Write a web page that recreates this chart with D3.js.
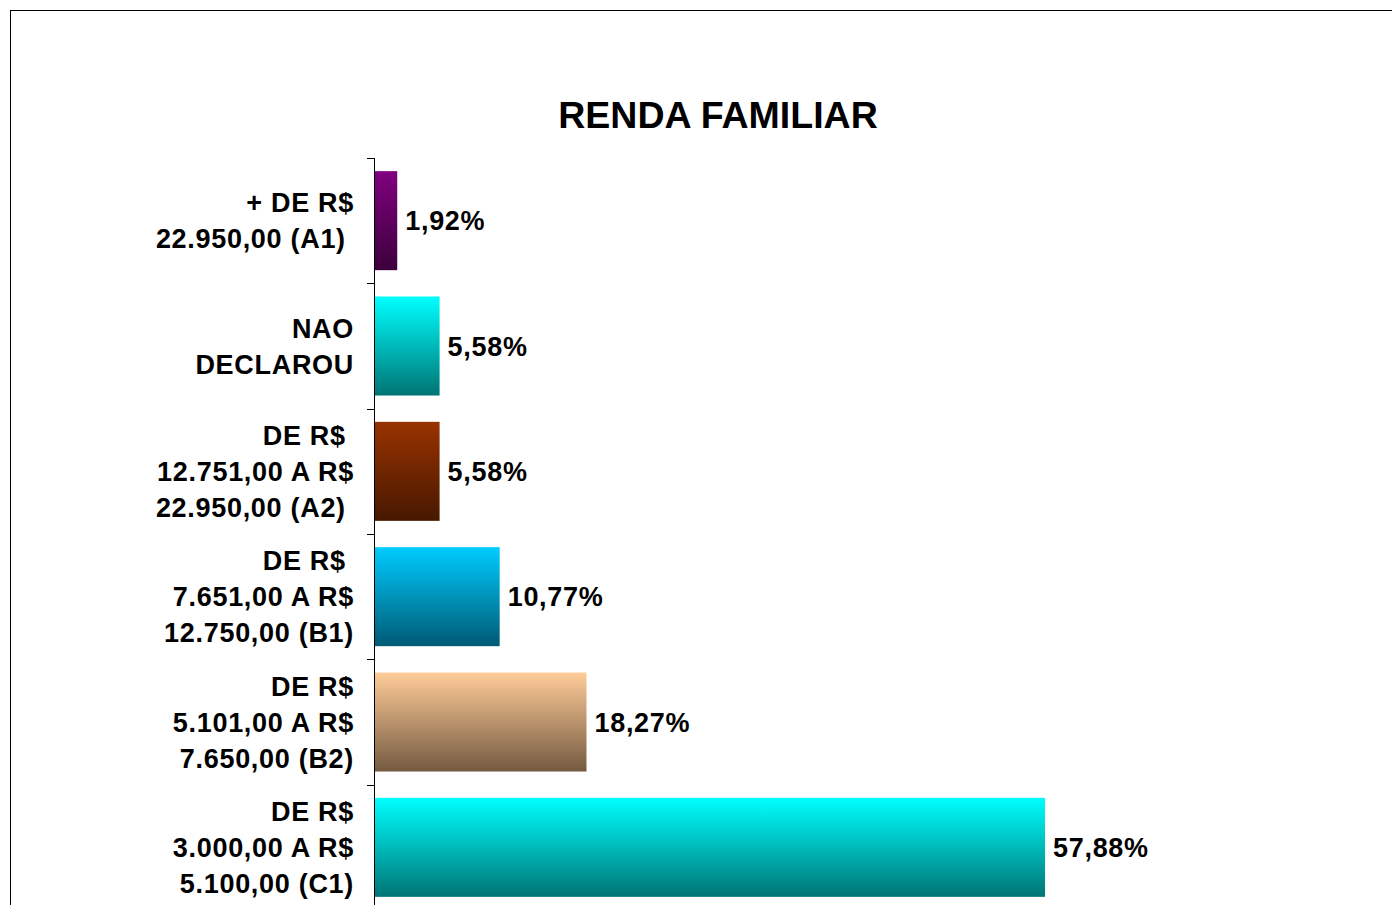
<!DOCTYPE html>
<html>
<head>
<meta charset="utf-8">
<script src="https://cdn.jsdelivr.net/npm/d3@7"></script>
<style>
  html, body { margin: 0; padding: 0; background: #fff; }
  svg { display: block; }
  text { font-family: "Liberation Sans", Arial, sans-serif; font-weight: bold; fill: #000; }
</style>
</head>
<body>
<svg id="chart" width="1392" height="905"></svg>
<script>
const title = "RENDA FAMILIAR";
const categories = ["A1", "NAO", "A2", "B1", "B2", "C1"];
const categoryLines = [
  ["+ DE R$", "22.950,00 (A1) "],
  ["NAO", "DECLAROU"],
  ["DE R$ ", "12.751,00 A R$", "22.950,00 (A2) "],
  ["DE R$ ", "7.651,00 A R$", "12.750,00 (B1)"],
  ["DE R$", "5.101,00 A R$", "7.650,00 (B2)"],
  ["DE R$", "3.000,00 A R$", "5.100,00 (C1)"]
];
const values = [1.92, 5.58, 5.58, 10.77, 18.27, 57.88];
const valueLabels = ["1,92%", "5,58%", "5,58%", "10,77%", "18,27%", "57,88%"];
const topColors = ["#800080", "#00ffff", "#993300", "#00ccff", "#ffcc99", "#00ffff"];
const bottomColors = ["#3c003c", "#007474", "#461800", "#005a74", "#745a40", "#007474"];

const svg = d3.select("#chart");

// outer border (right/bottom beyond view)
svg.append("rect")
  .attr("x", 10.5).attr("y", 10.5)
  .attr("width", 1400).attr("height", 1000)
  .attr("fill", "none").attr("stroke", "#000").attr("stroke-width", 1);

svg.append("text")
  .attr("x", 718).attr("y", 128)
  .attr("text-anchor", "middle")
  .style("font-size", "37.5px")
  .text(title);

const y = d3.scaleBand()
  .domain(categories)
  .range([158, 910])
  .paddingInner(0.21)
  .paddingOuter(0.105);

const x = d3.scaleLinear().domain([0, 100]).range([375, 375 + 1157.6]);

const defs = svg.append("defs");
categories.forEach((c, i) => {
  const g = defs.append("linearGradient")
    .attr("id", "grad" + i)
    .attr("x1", 0).attr("y1", 0).attr("x2", 0).attr("y2", 1);
  g.append("stop").attr("offset", "0%").attr("stop-color", topColors[i]);
  g.append("stop").attr("offset", "100%").attr("stop-color", bottomColors[i]);
});

const data = categories.map((c, i) => ({ c, i, v: values[i], label: valueLabels[i], lines: categoryLines[i] }));

svg.selectAll("rect.bar")
  .data(data)
  .enter().append("rect")
  .attr("class", "bar")
  .attr("x", x(0))
  .attr("y", d => y(d.c))
  .attr("width", d => x(d.v) - x(0))
  .attr("height", y.bandwidth())
  .attr("fill", d => "url(#grad" + d.i + ")");

// axis line and boundary ticks
const r0 = y.range()[0];
const step = y.step();
svg.append("line")
  .attr("x1", 374.5).attr("x2", 374.5)
  .attr("y1", r0).attr("y2", 910)
  .attr("stroke", "#000").attr("stroke-width", 1);
d3.range(categories.length + 1).forEach(k => {
  const yy = Math.round(r0 + k * step) + 0.5;
  svg.append("line")
    .attr("x1", 367).attr("x2", 374.5)
    .attr("y1", yy).attr("y2", yy)
    .attr("stroke", "#000").attr("stroke-width", 1);
});

// value labels
svg.selectAll("text.val")
  .data(data)
  .enter().append("text")
  .attr("class", "val")
  .attr("x", d => x(d.v) + 8)
  .attr("y", d => y(d.c) + y.bandwidth() / 2)
  .attr("dy", "0.36em")
  .style("font-size", "27px")
  .style("letter-spacing", "0.7px")
  .text(d => d.label);

// category labels
const lineH = 36;
data.forEach(d => {
  const cy = y(d.c) + y.bandwidth() / 2;
  const n = d.lines.length;
  d.lines.forEach((ln, j) => {
    svg.append("text")
      .attr("x", 354)
      .attr("y", cy + (j - (n - 1) / 2) * lineH)
      .attr("dy", "0.36em")
      .attr("text-anchor", "end")
      .style("font-size", "27px")
      .style("letter-spacing", "0.7px")
      .style("white-space", "pre")
      .text(ln);
  });
});
</script>
</body>
</html>
